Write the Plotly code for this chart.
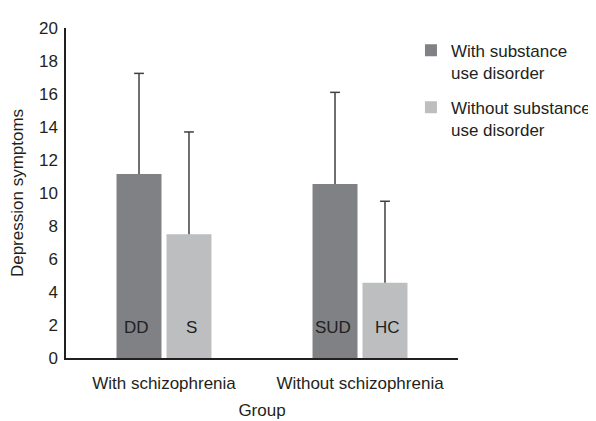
import plotly.graph_objects as go

groups = ["With schizophrenia", "Without schizophrenia"]
series_names = ["With substance<br>use disorder", "Without substance<br>use disorder"]
with_sud = [11.15, 10.55]
with_sud_sd = [6.1, 5.55]
without_sud = [7.5, 4.56]
without_sud_sd = [6.2, 4.94]
bar_labels_with = ["DD", "SUD"]
bar_labels_without = ["S", "HC"]
y_ticks = list(range(0, 21, 2))

FONT = "Liberation Sans, Arial"
TXT = "#231f20"
ERR = "#404040"

fig = go.Figure()
for name, vals, sds, col, grp in [
    (series_names[0], with_sud, with_sud_sd, "#808184", "a"),
    (series_names[1], without_sud, without_sud_sd, "#bcbec0", "b"),
]:
    fig.add_trace(go.Bar(
        x=groups, y=vals, name=name, legendgroup=grp, offsetgroup=grp,
        marker=dict(color=col, line=dict(width=0)),
        error_y=dict(type="data", array=sds, arrayminus=[0] * len(sds),
                     symmetric=False, color=ERR, thickness=1.5, width=0),
    ))
    fig.add_trace(go.Scatter(
        x=groups, y=[v + s for v, s in zip(vals, sds)], mode="markers",
        offsetgroup=grp, legendgroup=grp, showlegend=False, hoverinfo="skip",
        marker=dict(symbol="line-ew", size=7, color=ERR,
                    line=dict(color=ERR, width=1.5)),
    ))

for g, lab in zip(groups, bar_labels_with):
    fig.add_annotation(x=g, y=1.82, text=lab, showarrow=False, xshift=-27.5,
                       font=dict(size=17, color=TXT, family=FONT))
for g, lab in zip(groups, bar_labels_without):
    fig.add_annotation(x=g, y=1.82, text=lab, showarrow=False, xshift=27.5,
                       font=dict(size=17, color=TXT, family=FONT))

fig.update_layout(
    width=596, height=421,
    margin=dict(l=58, r=146, t=20, b=71, autoexpand=False),
    paper_bgcolor="white", plot_bgcolor="white",
    barmode="group", bargap=0.49, bargroupgap=0.1,
    scattermode="group", scattergap=0.49,
    font=dict(family=FONT, size=17, color=TXT),
    legend=dict(x=0.88, y=0.986, xanchor="left", yanchor="top",
                font=dict(size=17, color=TXT, family=FONT),
                valign="top", traceorder="grouped", tracegroupgap=10, itemwidth=30,
                bgcolor="rgba(0,0,0,0)"),
    xaxis=dict(showline=True, linecolor=TXT, linewidth=1.5, ticks="",
               showgrid=False, zeroline=False, tickangle=0, automargin=False,
               ticklabelstandoff=9,
               tickfont=dict(size=17, color=TXT),
               title=dict(text="Group", font=dict(size=17, color=TXT), standoff=12)),
    yaxis=dict(range=[0, 20], tickvals=y_ticks, showline=True, linecolor=TXT,
               linewidth=1.5, ticks="", showgrid=False, zeroline=False, automargin=False,
               ticklabelstandoff=3,
               tickfont=dict(size=17, color=TXT),
               title=dict(text="Depression symptoms", font=dict(size=17, color=TXT), standoff=11)),
)

fig.write_html("out.html")
